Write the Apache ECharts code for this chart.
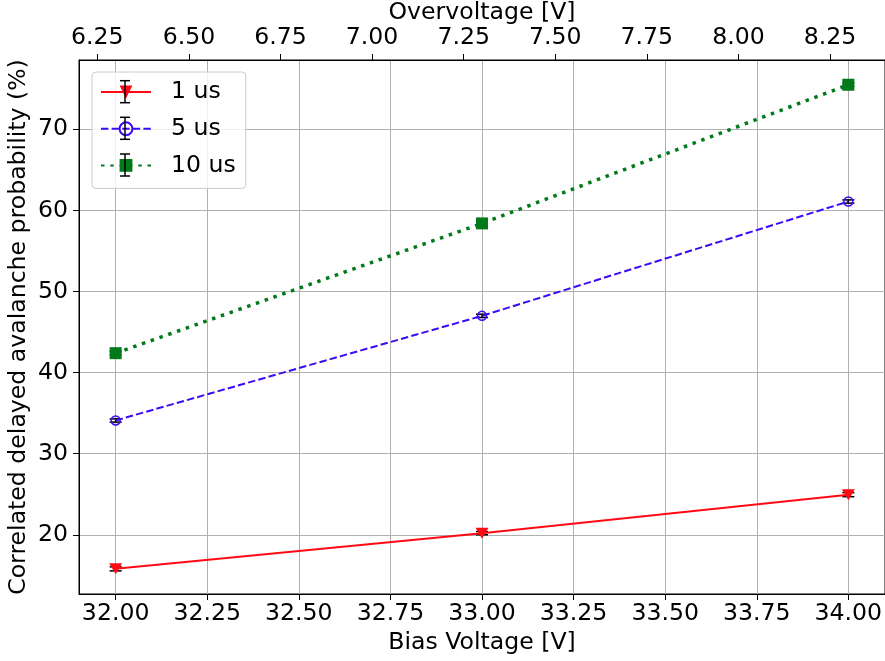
<!DOCTYPE html>
<html>
<head>
<meta charset="utf-8">
<script src="https://cdn.jsdelivr.net/npm/echarts@6/dist/echarts.min.js"></script>
<style>
  html, body { margin: 0; padding: 0; background: #ffffff; }
  #chart { width: 885px; height: 661px; }
</style>
</head>
<body>
<div id="chart"></div>
<script>
// Bias voltage points and the breakdown offset used for the overvoltage axis
const biasVoltage = [32.0, 33.0, 34.0];
const breakdownVoltage = 25.7;

// Correlated delayed avalanche probability (%) per integration window
const seriesNames = ['1 us', '5 us', '10 us'];
const prob1us = [15.8, 20.2, 24.95];
const prob5us = [34.1, 47.0, 61.1];
const prob10us = [42.4, 58.4, 75.5];
const err1us = [0.25, 0.2, 0.25];
const err5us = [0.2, 0.2, 0.2];
const err10us = [0.2, 0.2, 0.2];

// Tick positions
const biasTicks = [32.0, 32.25, 32.5, 32.75, 33.0, 33.25, 33.5, 33.75, 34.0];
const overTicks = [6.25, 6.5, 6.75, 7.0, 7.25, 7.5, 7.75, 8.0, 8.25];
const probTicks = [20, 30, 40, 50, 60, 70];

// Axis ranges
const biasMin = 31.9, biasMax = 34.1;
const probMin = 12.7, probMax = 78.55;

const FONT = 'DejaVu Sans';
const FS = 23.6;
const colors = ['#ff0a14', '#3d0af5', '#007a1a'];

const chart = echarts.init(document.getElementById('chart'), null, { renderer: 'canvas' });

function pairs(ys) { return biasVoltage.map((x, i) => [x, ys[i]]); }
function errPairs(ys, es) { return biasVoltage.map((x, i) => [x, ys[i], es[i]]); }

function errorSeries(ys, es) {
  return {
    type: 'custom',
    xAxisIndex: 0,
    yAxisIndex: 0,
    silent: true,
    z: 1,
    data: errPairs(ys, es),
    renderItem: function (params, api) {
      const x = api.value(0), y = api.value(1), e = api.value(2);
      const lo = api.coord([x, y - e]);
      const hi = api.coord([x, y + e]);
      const cap = 6;
      const st = { stroke: '#000000', lineWidth: 1.5 };
      return {
        type: 'group',
        children: [
          { type: 'line', shape: { x1: lo[0], y1: lo[1], x2: hi[0], y2: hi[1] }, style: st },
          { type: 'line', shape: { x1: lo[0] - cap, y1: lo[1], x2: lo[0] + cap, y2: lo[1] }, style: st },
          { type: 'line', shape: { x1: hi[0] - cap, y1: hi[1], x2: hi[0] + cap, y2: hi[1] }, style: st }
        ]
      };
    }
  };
}

const axisLineStyle = { color: '#000000', width: 1 };
const labelStyle = { color: '#000000', fontFamily: FONT, fontSize: FS };
const nameStyle = { color: '#000000', fontFamily: FONT, fontSize: FS };

// Legend error-bar glyphs drawn over the legend handles
const legendRowsY = [91.7, 128.3, 165];
const glyphStyle = { stroke: '#000', lineWidth: 1.5 };
const legendGlyphs = [];
legendRowsY.forEach(cy => {
  legendGlyphs.push(
    { type: 'line', z: 100, zlevel: 1, silent: true, shape: { x1: 125, y1: cy - 11, x2: 125, y2: cy + 11 }, style: glyphStyle },
    { type: 'line', z: 100, zlevel: 1, silent: true, shape: { x1: 120, y1: cy - 11, x2: 130, y2: cy - 11 }, style: glyphStyle },
    { type: 'line', z: 100, zlevel: 1, silent: true, shape: { x1: 120, y1: cy + 11, x2: 130, y2: cy + 11 }, style: glyphStyle }
  );
});

const option = {
  animation: false,
  backgroundColor: '#ffffff',
  textStyle: { fontFamily: FONT },
  grid: {
    left: 79, top: 60, width: 806, height: 534,
    containLabel: false,
    outerBoundsMode: 'none',
    show: true, borderColor: '#000000', borderWidth: 1, backgroundColor: 'transparent'
  },
  legend: {
    orient: 'vertical',
    left: 92, top: 72,
    padding: [8, 10, 11, 8],
    itemWidth: 50, itemHeight: 16, itemGap: 12.7,
    backgroundColor: 'rgba(255,255,255,0.8)',
    borderColor: '#cccccc', borderWidth: 1, borderRadius: 4,
    textStyle: { color: '#000000', fontFamily: FONT, fontSize: FS, padding: [0, 0, 0, 15] },
    data: seriesNames
  },
  graphic: legendGlyphs,
  xAxis: [
    {
      type: 'value', position: 'bottom',
      min: biasMin, max: biasMax,
      name: 'Bias Voltage [V]', nameLocation: 'middle', nameGap: 37, nameMoveOverlap: false,
      nameTextStyle: nameStyle,
      axisLine: { show: true, lineStyle: axisLineStyle },
      axisTick: { show: true, length: 6, inside: false, lineStyle: axisLineStyle, customValues: biasTicks },
      axisLabel: { ...labelStyle, margin: 8, customValues: biasTicks, formatter: v => v.toFixed(2) },
      splitLine: { show: true, lineStyle: { color: '#b0b0b0', width: 1 } }
    },
    {
      type: 'value', position: 'top',
      min: biasMin - breakdownVoltage, max: biasMax - breakdownVoltage,
      name: 'Overvoltage [V]', nameLocation: 'middle', nameGap: 35, nameMoveOverlap: false,
      nameTextStyle: nameStyle,
      axisLine: { show: true, lineStyle: axisLineStyle },
      axisTick: { show: true, length: 6, inside: false, lineStyle: axisLineStyle, customValues: overTicks },
      axisLabel: { ...labelStyle, margin: 10, customValues: overTicks, formatter: v => v.toFixed(2) },
      splitLine: { show: false }
    }
  ],
  yAxis: {
    type: 'value',
    min: probMin, max: probMax,
    name: 'Correlated delayed avalanche probability (%)', nameLocation: 'middle', nameGap: 48, nameMoveOverlap: false,
    nameTextStyle: nameStyle,
    axisLine: { show: true, lineStyle: axisLineStyle },
    axisTick: { show: true, length: 6, inside: false, lineStyle: axisLineStyle, customValues: probTicks },
    axisLabel: { ...labelStyle, margin: 11, customValues: probTicks, formatter: v => String(v) },
    splitLine: { show: true, lineStyle: { color: '#b0b0b0', width: 1 } }
  },
  series: [
    errorSeries(prob1us, err1us),
    errorSeries(prob5us, err5us),
    errorSeries(prob10us, err10us),
    {
      name: seriesNames[0], type: 'line', xAxisIndex: 0, data: pairs(prob1us), z: 3,
      symbol: 'triangle', symbolRotate: 180, symbolSize: [13, 11],
      lineStyle: { color: colors[0], width: 2, type: 'solid' },
      itemStyle: { color: colors[0], borderWidth: 0 }
    },
    {
      name: seriesNames[1], type: 'line', xAxisIndex: 0, data: pairs(prob5us), z: 3,
      symbol: 'circle', symbolSize: 9,
      lineStyle: { color: colors[1], width: 2, type: [7.4, 3.2] },
      itemStyle: { color: 'rgba(0,0,0,0)', borderColor: colors[1], borderWidth: 1.5 }
    },
    {
      name: seriesNames[2], type: 'line', xAxisIndex: 0, data: pairs(prob10us), z: 3,
      symbol: 'rect', symbolSize: 12,
      lineStyle: { color: colors[2], width: 3.5, type: [3.5, 5.8] },
      itemStyle: { color: colors[2], borderWidth: 0 }
    }
  ]
};

chart.setOption(option);
</script>
</body>
</html>
